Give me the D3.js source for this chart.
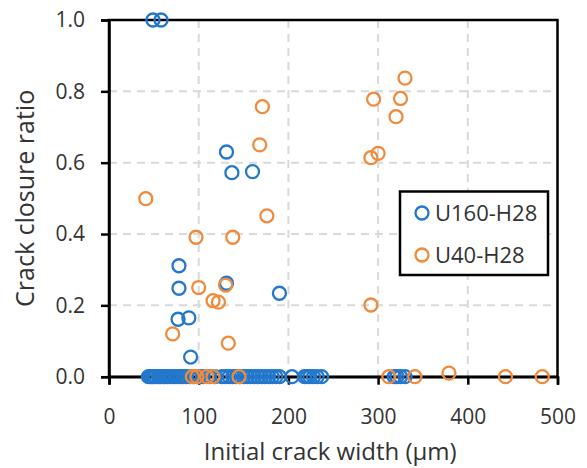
<!DOCTYPE html>
<head>
  <meta charset='utf-8'>
  <title>Crack closure ratio</title>
  <style>
    body { margin: 0; background: #fff; }
    svg text { font-family: "Open Sans", "Noto Sans", sans-serif; fill: #333; }
    .grid line { stroke: #d9d9d9; stroke-width: 2; stroke-dasharray: 8,6; }
  </style>
</head>
<body>
  <div id="chart"></div>
  <script src="https://cdn.jsdelivr.net/npm/d3@7"></script>
  <script>
    // data: crack width (um) and closure ratio
    var u160Width = [49, 58, 131, 137, 160, 78, 78, 77, 89, 91, 131, 190,
                     44, 46, 48, 50, 52, 55, 57, 60, 62, 65, 68, 71, 74, 77, 80, 83, 86, 90, 95,
                     100, 105, 112, 118, 126, 130, 134, 138, 142, 146, 150, 154, 158, 162, 166,
                     170, 174, 178, 182, 186, 190, 204, 218, 221, 224, 228, 232, 237,
                     318, 321, 325, 330];
    var u160Ratio = [1.0, 1.0, 0.63, 0.572, 0.575, 0.311, 0.248, 0.161, 0.165, 0.055, 0.262, 0.234,
                     0, 0, 0, 0, 0, 0, 0, 0, 0, 0, 0, 0, 0, 0, 0, 0, 0, 0, 0,
                     0, 0, 0, 0, 0, 0, 0, 0, 0, 0, 0, 0, 0, 0, 0,
                     0, 0, 0, 0, 0, 0, 0, 0, 0, 0, 0, 0, 0,
                     0, 0, 0, 0];
    var u40Width = [41, 171, 168, 176, 97, 138, 100, 130, 116, 122, 71, 133,
                    330, 295, 325, 320, 292, 300, 292,
                    93, 98, 109, 116, 145, 312, 341, 379, 442, 483];
    var u40Ratio = [0.499, 0.757, 0.65, 0.451, 0.391, 0.391, 0.25, 0.257, 0.213, 0.209, 0.12, 0.094,
                    0.837, 0.778, 0.78, 0.729, 0.614, 0.626, 0.201,
                    0, 0, 0, 0, 0, 0, 0, 0.01, 0, 0];
    var xTicks = [0, 100, 200, 300, 400, 500];
    var yTicks = [0, 0.2, 0.4, 0.6, 0.8, 1.0];
    var seriesNames = ["U160-H28", "U40-H28"];
    var seriesColors = ["#2478cc", "#f08a3c"];

    var width = 587, height = 468;
    var plotL = 109, plotR = 557.5, plotT = 20, plotB = 376.7;

    var svg = d3.select("#chart").append("svg")
        .attr("width", width)
        .attr("height", height);

    var x = d3.scaleLinear().domain([0, 500]).range([plotL, plotR]);
    var y = d3.scaleLinear().domain([0, 1]).range([plotB, plotT]);

    // grid
    var grid = svg.append("g").attr("class", "grid");
    grid.selectAll(".vx")
        .data(xTicks.slice(1, -1))
      .enter().append("line")
        .attr("x1", function(d) { return x(d); })
        .attr("x2", function(d) { return x(d); })
        .attr("y1", plotT)
        .attr("y2", plotB);
    grid.selectAll(".hy")
        .data(yTicks.slice(1, -1))
      .enter().append("line")
        .attr("x1", plotL)
        .attr("x2", plotR)
        .attr("y1", function(d) { return y(d); })
        .attr("y2", function(d) { return y(d); });

    // frame
    svg.append("rect")
        .attr("x", plotL)
        .attr("y", plotT)
        .attr("width", plotR - plotL)
        .attr("height", plotB - plotT)
        .style("fill", "none")
        .style("stroke", "#000")
        .style("stroke-width", 2.5);

    var xAxis = svg.append("g")
        .attr("transform", "translate(0," + plotB + ")")
        .call(d3.axisBottom(x).tickValues(xTicks).tickSize(8).tickPadding(24).tickFormat(d3.format("d")));
    var yAxis = svg.append("g")
        .attr("transform", "translate(" + plotL + ",0)")
        .call(d3.axisLeft(y).tickValues(yTicks).tickSize(8).tickPadding(16).tickFormat(d3.format(".1f")));

    [xAxis, yAxis].forEach(function(a) {
      a.select(".domain").style("stroke", "#000").style("stroke-width", 2.5);
      a.selectAll(".tick line").style("stroke", "#000").style("stroke-width", 2.5);
      a.selectAll(".tick text")
          .style("font-size", "21px")
          .style("fill", "#333")
          .style("font-family", "'Open Sans', 'Noto Sans', sans-serif");
    });

    // points
    var series = [
      { name: seriesNames[0], color: seriesColors[0], xs: u160Width, ys: u160Ratio },
      { name: seriesNames[1], color: seriesColors[1], xs: u40Width, ys: u40Ratio }
    ];

    series.forEach(function(s) {
      svg.append("g").selectAll("circle")
          .data(d3.range(s.xs.length))
        .enter().append("circle")
          .attr("cx", function(i) { return x(s.xs[i]); })
          .attr("cy", function(i) { return y(s.ys[i]); })
          .attr("r", 6.5)
          .style("fill", "none")
          .style("stroke", s.color)
          .style("stroke-width", 2.3);
    });

    // axis titles
    svg.append("text")
        .attr("x", (plotL + plotR) / 2 - 3)
        .attr("y", 460)
        .attr("text-anchor", "middle")
        .style("font-size", "24px")
        .text("Initial crack width (µm)");

    svg.append("text")
        .attr("transform", "translate(34," + ((plotT + plotB) / 2) + ") rotate(-90)")
        .attr("text-anchor", "middle")
        .style("font-size", "25px")
        .text("Crack closure ratio");

    // legend
    var legend = svg.append("g");
    legend.append("rect")
        .attr("x", 400)
        .attr("y", 191.5)
        .attr("width", 148)
        .attr("height", 83.5)
        .style("fill", "#fff")
        .style("stroke", "#000")
        .style("stroke-width", 2.5);

    series.forEach(function(s, i) {
      var ly = 213 + i * 42;
      legend.append("circle")
          .attr("cx", 422)
          .attr("cy", ly)
          .attr("r", 6.5)
          .style("fill", "none")
          .style("stroke", s.color)
          .style("stroke-width", 2.3);
      legend.append("text")
          .attr("x", 435)
          .attr("y", ly)
          .attr("dy", "0.35em")
          .style("font-size", "22px")
          .text(s.name);
    });
  </script>
</body>
